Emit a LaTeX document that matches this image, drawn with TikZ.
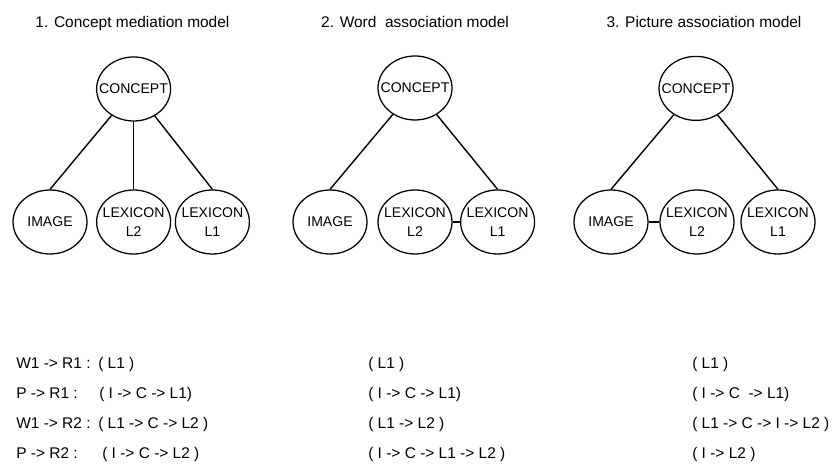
\documentclass[tikz,border=0pt]{standalone}
\usepackage{fontspec}
\setmainfont{Liberation Sans}
\usetikzlibrary{shapes.geometric}
\tikzset{bubble/.style = {draw, ellipse, line width=0.9pt, minimum width=1.85cm, minimum height=1.6cm, inner xsep=-0.3cm, inner ysep=0pt, align=center, font=\fontsize{10}{13}\selectfont}}
\tikzset{link/.style = {line width=1pt}}
\tikzset{heading/.style = {anchor=base, font=\fontsize{11}{13}\selectfont}}
\tikzset{entry/.style = {anchor=base west, inner sep=0pt, font=\fontsize{11}{13}\selectfont}}

\begin{document}
\begin{tikzpicture}
\useasboundingbox (0,0) rectangle (20.875,11.9);
% 1. concept mediation
\node [heading] (head1) at (3.31,11.21) {1. Concept mediation model};
\node [bubble] (con1) at (3.34,9.675) {CONCEPT};
\node [bubble] (img1) at (1.25,6.35) {IMAGE};
\node [bubble] (ltwo1) at (3.34,6.35) {LEXICON\\L2};
\node [bubble] (lone1) at (5.31,6.35) {LEXICON\\L1};
\draw [link] (con1) -- (img1.north);
\draw [link, line width=0.7pt] (con1) -- (ltwo1);
\draw [link] (con1) -- (lone1.north);
% 2. word association
\node [heading] (head2) at (10.375,11.21) {2. Word~ association model};
\node [bubble] (con2) at (10.375,9.7) {CONCEPT};
\node [bubble] (img2) at (8.25,6.35) {IMAGE};
\node [bubble] (ltwo2) at (10.375,6.35) {LEXICON\\L2};
\node [bubble] (lone2) at (12.44,6.35) {LEXICON\\L1};
\draw [link] (con2) -- (img2.north);
\draw [link] (con2) -- (lone2.north);
\draw [link] (ltwo2) -- (lone2);
% 3. picture association
\node [heading] (head3) at (17.6,11.21) {3. Picture association model};
\node [bubble] (con3) at (17.4,9.69) {CONCEPT};
\node [bubble] (img3) at (15.275,6.35) {IMAGE};
\node [bubble] (ltwo3) at (17.425,6.35) {LEXICON\\L2};
\node [bubble] (lone3) at (19.45,6.35) {LEXICON\\L1};
\draw [link] (con3) -- (img3.north);
\draw [link] (con3) -- (lone3.north);
\draw [link] (img3) -- (ltwo3);
% routes
\node [entry] (wa) at (0.4,2.675) {W1 -> R1 :};
\node [entry] (wa1) at (2.45,2.675) {( L1 )};
\node [entry] (wa2) at (9.2,2.675) {( L1 )};
\node [entry] (wa3) at (17.3,2.675) {( L1 )};
\node [entry] (pa) at (0.4,1.925) {P -> R1 :};
\node [entry] (pa1) at (2.475,1.925) {( I -> C -> L1)};
\node [entry] (pa2) at (9.2,1.925) {( I -> C -> L1)};
\node [entry] (pa3) at (17.3,1.925) {( I -> C~ -> L1)};
\node [entry] (wb) at (0.4,1.175) {W1 -> R2 :};
\node [entry] (wb1) at (2.45,1.175) {( L1 -> C -> L2 )};
\node [entry] (wb2) at (9.2,1.175) {( L1 -> L2 )};
\node [entry] (wb3) at (17.3,1.175) {( L1 -> C -> I -> L2 )};
\node [entry] (pb) at (0.4,0.425) {P -> R2 :};
\node [entry] (pb1) at (2.55,0.425) {( I -> C -> L2 )};
\node [entry] (pb2) at (9.2,0.425) {( I -> C -> L1 -> L2 )};
\node [entry] (pb3) at (17.3,0.425) {( I -> L2 )};
\end{tikzpicture}
\end{document}
